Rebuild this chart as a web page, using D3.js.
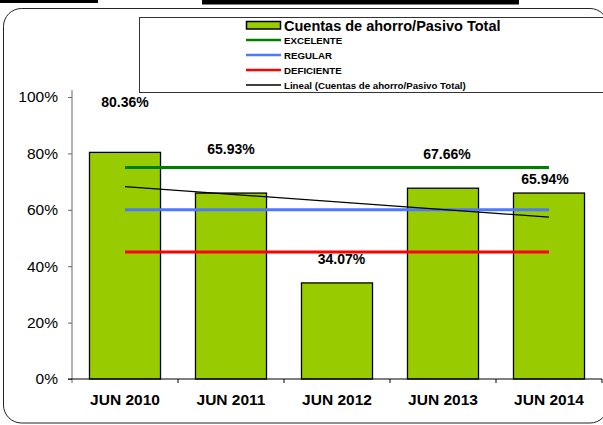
<!DOCTYPE html>
<html>
<head>
<meta charset="utf-8">
<script src="https://cdn.jsdelivr.net/npm/d3@7"></script>
<style>
  body { margin: 0; background: #fff; }
  svg { display: block; font-family: "Liberation Sans", Arial, sans-serif; }
</style>
</head>
<body>
<div id="chart"></div>
<script>
// data
var periods = ["JUN 2010", "JUN 2011", "JUN 2012", "JUN 2013", "JUN 2014"];
var ratio = [0.8036, 0.6593, 0.3407, 0.6766, 0.6594];
var excelente = [0.75, 0.75, 0.75, 0.75, 0.75];
var regular = [0.60, 0.60, 0.60, 0.60, 0.60];
var deficiente = [0.45, 0.45, 0.45, 0.45, 0.45];
var trend = [0.682, 0.574];   // Lineal trend, first and last period
var yTicks = [0, 0.2, 0.4, 0.6, 0.8, 1.0];

// layout only: where Excel dropped each data label
var labelLift = [45, 39, 18.6, 29, 8.7],
	labelShift = [0, 0, 4.5, 4, -4];

var width = 603, height = 425;

var x = d3.scaleBand().domain(periods).range([72, 602]).paddingInner(0.33).paddingOuter(0.165);
var y = d3.scaleLinear().domain([0, 1]).range([379, 97]);
var cx = function(d) { return x(d) + x.bandwidth() / 2; };

var svg = d3.select("#chart").append("svg")
	.attr("width", width)
	.attr("height", height);

// black strips at the very top
svg.append("rect").attr("x", 0).attr("y", 0).attr("width", 98).attr("height", 3).attr("fill", "#000");
svg.append("rect").attr("x", 202).attr("y", 0).attr("width", 317).attr("height", 4.5).attr("fill", "#000");

// rounded chart frame (runs off the right edge)
svg.append("rect")
	.attr("x", 3.5).attr("y", 8.5)
	.attr("width", 604.5).attr("height", 414.5)
	.attr("rx", 18)
	.attr("fill", "none")
	.attr("stroke", "#222")
	.attr("stroke-width", 1);

// y axis
var yAxis = svg.append("g")
	.attr("transform", "translate(72,0)")
	.call(d3.axisLeft(y).tickValues(yTicks).tickFormat(d3.format(".0%")).tickSize(4).tickPadding(10));
yAxis.select(".domain").remove();
yAxis.append("line").attr("x1", 0).attr("x2", 0).attr("y1", 90).attr("y2", 383).attr("stroke", "#666");
yAxis.selectAll(".tick line").attr("stroke", "#666");
yAxis.selectAll(".tick text").attr("fill", "#000").style("font-size", "15.5px");

// bars
svg.selectAll(".bar")
	.data(ratio)
	.enter()
	.append("rect")
	.attr("class", "bar")
	.attr("x", function(d, i) { return x(periods[i]); })
	.attr("y", function(d) { return y(d); })
	.attr("width", x.bandwidth())
	.attr("height", function(d) { return y(0) - y(d); })
	.attr("fill", "#99cc00")
	.attr("stroke", "#000")
	.attr("stroke-width", 1.3);

// x axis
var xAxis = svg.append("g")
	.attr("transform", "translate(0," + y(0) + ")");
xAxis.append("line").attr("x1", 68).attr("x2", 602).attr("y1", 0).attr("y2", 0).attr("stroke", "#000");
xAxis.selectAll(".xt")
	.data(periods)
	.enter()
	.append("line")
	.attr("x1", function(d) { return x(d) + x.bandwidth() + x.step() * x.paddingInner() / 2; })
	.attr("x2", function(d) { return x(d) + x.bandwidth() + x.step() * x.paddingInner() / 2; })
	.attr("y1", 0).attr("y2", 4)
	.attr("stroke", "#000");
xAxis.selectAll(".xl")
	.data(periods)
	.enter()
	.append("text")
	.attr("x", cx)
	.attr("y", 26)
	.attr("text-anchor", "middle")
	.style("font-size", "15.5px")
	.style("font-weight", "bold")
	.text(function(d) { return d; });

// reference lines
var refLine = d3.line()
	.x(function(d, i) { return cx(periods[i]); })
	.y(function(d) { return y(d); });

[[excelente, "#008000"], [regular, "#4d79ff"], [deficiente, "#ff0000"]].forEach(function(s) {
	svg.append("path")
		.datum(s[0])
		.attr("d", refLine)
		.attr("fill", "none")
		.attr("stroke", s[1])
		.attr("stroke-width", 3);
});

// linear trend
svg.append("line")
	.attr("x1", cx(periods[0])).attr("y1", y(trend[0]))
	.attr("x2", cx(periods[periods.length - 1])).attr("y2", y(trend[1]))
	.attr("stroke", "#000")
	.attr("stroke-width", 1.3);

// data labels
svg.selectAll(".lbl")
	.data(ratio)
	.enter()
	.append("text")
	.attr("x", function(d, i) { return cx(periods[i]) + labelShift[i]; })
	.attr("y", function(d, i) { return y(d) - labelLift[i]; })
	.attr("text-anchor", "middle")
	.style("font-size", "14px")
	.style("font-weight", "bold")
	.text(function(d) { return d3.format(".2%")(d); });

// legend
var legend = svg.append("g");
legend.append("rect")
	.attr("x", 139.5).attr("y", 17.5)
	.attr("width", 480).attr("height", 75)
	.attr("fill", "#fff")
	.attr("stroke", "#333");

legend.append("rect")
	.attr("x", 246.5).attr("y", 21.5)
	.attr("width", 34).attr("height", 7.5)
	.attr("fill", "#99cc00")
	.attr("stroke", "#000")
	.attr("stroke-width", 1.5);
legend.append("text")
	.attr("x", 284).attr("y", 30.5)
	.style("font-size", "14.5px")
	.style("font-weight", "bold")
	.text("Cuentas de ahorro/Pasivo Total");

var legendItems = [
	["EXCELENTE", "#008000", 40, 2.5],
	["REGULAR", "#4d79ff", 55, 2.5],
	["DEFICIENTE", "#ff0000", 70, 2.5],
	["Lineal (Cuentas de ahorro/Pasivo Total)", "#000", 85, 1.5]
];
legendItems.forEach(function(it) {
	legend.append("line")
		.attr("x1", 246).attr("x2", 281)
		.attr("y1", it[2]).attr("y2", it[2])
		.attr("stroke", it[1])
		.attr("stroke-width", it[3]);
	legend.append("text")
		.attr("x", 284).attr("y", it[2] + 3.5)
		.style("font-size", "9.7px")
		.style("font-weight", "bold")
		.text(it[0]);
});
</script>
</body>
</html>
